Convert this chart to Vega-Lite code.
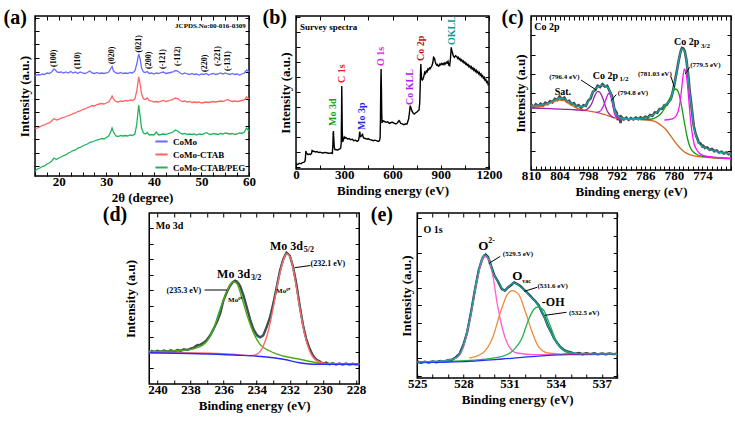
{
"$schema": "https://vega.github.io/schema/vega-lite/v6.json",
"background": "white",
"padding": {"left": 2, "top": 6, "right": 0, "bottom": 0},
"spacing": -2,
"center": true,
"resolve": {"scale": {"color": "independent"}, "legend": {"color": "independent"}},
"vconcat": [
{"hconcat": [
{
"width": 214, "height": 160,
"title": {"text": "(a)", "dx": -15},
"data": {"values": [
{"x":15,"y":100,"s":"CoMo"},{"x":15.5,"y":101.5,"s":"CoMo"},{"x":16,"y":101,"s":"CoMo"},{"x":16.5,"y":102,"s":"CoMo"},{"x":17,"y":101.5,"s":"CoMo"},{"x":17.5,"y":103,"s":"CoMo"},{"x":18,"y":102.5,"s":"CoMo"},{"x":18.5,"y":104,"s":"CoMo"},{"x":19,"y":107,"s":"CoMo"},{"x":19.3,"y":106,"s":"CoMo"},{"x":19.6,"y":104,"s":"CoMo"},{"x":20,"y":103.5,"s":"CoMo"},{"x":20.5,"y":104,"s":"CoMo"},{"x":21,"y":103,"s":"CoMo"},{"x":21.5,"y":104,"s":"CoMo"},{"x":22,"y":103,"s":"CoMo"},{"x":22.5,"y":104.5,"s":"CoMo"},{"x":23,"y":103,"s":"CoMo"},{"x":23.5,"y":104,"s":"CoMo"},{"x":24,"y":102.5,"s":"CoMo"},{"x":24.5,"y":104,"s":"CoMo"},{"x":25,"y":103,"s":"CoMo"},{"x":25.5,"y":102.5,"s":"CoMo"},{"x":26,"y":103.5,"s":"CoMo"},{"x":26.5,"y":105,"s":"CoMo"},{"x":27,"y":103,"s":"CoMo"},{"x":27.5,"y":102.5,"s":"CoMo"},{"x":28,"y":103.5,"s":"CoMo"},{"x":28.5,"y":102.5,"s":"CoMo"},{"x":29,"y":103,"s":"CoMo"},{"x":29.5,"y":102.5,"s":"CoMo"},{"x":30,"y":103,"s":"CoMo"},{"x":30.5,"y":104,"s":"CoMo"},{"x":31,"y":108,"s":"CoMo"},{"x":31.2,"y":109.5,"s":"CoMo"},{"x":31.5,"y":105,"s":"CoMo"},{"x":32,"y":103,"s":"CoMo"},{"x":32.5,"y":102.5,"s":"CoMo"},{"x":33,"y":103.5,"s":"CoMo"},{"x":33.5,"y":102.5,"s":"CoMo"},{"x":34,"y":103,"s":"CoMo"},{"x":34.5,"y":102.5,"s":"CoMo"},{"x":35,"y":103.5,"s":"CoMo"},{"x":35.5,"y":103,"s":"CoMo"},{"x":36,"y":105,"s":"CoMo"},{"x":36.4,"y":112,"s":"CoMo"},{"x":36.8,"y":122,"s":"CoMo"},{"x":37.1,"y":117,"s":"CoMo"},{"x":37.4,"y":108,"s":"CoMo"},{"x":37.8,"y":104,"s":"CoMo"},{"x":38.2,"y":103.5,"s":"CoMo"},{"x":38.6,"y":104.5,"s":"CoMo"},{"x":39,"y":102.5,"s":"CoMo"},{"x":39.5,"y":103,"s":"CoMo"},{"x":40,"y":102,"s":"CoMo"},{"x":40.5,"y":103,"s":"CoMo"},{"x":41,"y":102.5,"s":"CoMo"},{"x":41.5,"y":103.5,"s":"CoMo"},{"x":42,"y":104,"s":"CoMo"},{"x":42.5,"y":102.5,"s":"CoMo"},{"x":43,"y":103,"s":"CoMo"},{"x":43.5,"y":103.5,"s":"CoMo"},{"x":44,"y":104,"s":"CoMo"},{"x":44.5,"y":105.5,"s":"CoMo"},{"x":45,"y":105,"s":"CoMo"},{"x":45.5,"y":103,"s":"CoMo"},{"x":46,"y":102,"s":"CoMo"},{"x":46.5,"y":103,"s":"CoMo"},{"x":47,"y":102,"s":"CoMo"},{"x":47.5,"y":101.5,"s":"CoMo"},{"x":48,"y":102.5,"s":"CoMo"},{"x":48.5,"y":101.5,"s":"CoMo"},{"x":49,"y":102,"s":"CoMo"},{"x":49.5,"y":101,"s":"CoMo"},{"x":50,"y":102,"s":"CoMo"},{"x":50.5,"y":101.5,"s":"CoMo"},{"x":51,"y":102.5,"s":"CoMo"},{"x":51.5,"y":101,"s":"CoMo"},{"x":52,"y":102,"s":"CoMo"},{"x":52.5,"y":102.5,"s":"CoMo"},{"x":53,"y":101.5,"s":"CoMo"},{"x":53.5,"y":102,"s":"CoMo"},{"x":54,"y":103,"s":"CoMo"},{"x":54.5,"y":102,"s":"CoMo"},{"x":55,"y":103,"s":"CoMo"},{"x":55.5,"y":102,"s":"CoMo"},{"x":56,"y":101.5,"s":"CoMo"},{"x":56.5,"y":102.5,"s":"CoMo"},{"x":57,"y":101.5,"s":"CoMo"},{"x":57.5,"y":102,"s":"CoMo"},{"x":58,"y":101,"s":"CoMo"},{"x":58.5,"y":102,"s":"CoMo"},{"x":59,"y":103,"s":"CoMo"},{"x":59.5,"y":106,"s":"CoMo"},{"x":60,"y":104,"s":"CoMo"},
{"x":15,"y":47,"s":"CoMo-CTAB"},{"x":15.5,"y":48,"s":"CoMo-CTAB"},{"x":16,"y":49,"s":"CoMo-CTAB"},{"x":16.5,"y":50.5,"s":"CoMo-CTAB"},{"x":17,"y":51,"s":"CoMo-CTAB"},{"x":17.5,"y":52.5,"s":"CoMo-CTAB"},{"x":18,"y":53,"s":"CoMo-CTAB"},{"x":18.5,"y":55,"s":"CoMo-CTAB"},{"x":19,"y":57.5,"s":"CoMo-CTAB"},{"x":19.5,"y":56,"s":"CoMo-CTAB"},{"x":20,"y":56.5,"s":"CoMo-CTAB"},{"x":20.5,"y":58,"s":"CoMo-CTAB"},{"x":21,"y":58.5,"s":"CoMo-CTAB"},{"x":21.5,"y":59.5,"s":"CoMo-CTAB"},{"x":22,"y":60.5,"s":"CoMo-CTAB"},{"x":22.5,"y":61,"s":"CoMo-CTAB"},{"x":23,"y":62.5,"s":"CoMo-CTAB"},{"x":23.5,"y":63,"s":"CoMo-CTAB"},{"x":24,"y":64.5,"s":"CoMo-CTAB"},{"x":24.5,"y":65,"s":"CoMo-CTAB"},{"x":25,"y":66.5,"s":"CoMo-CTAB"},{"x":25.5,"y":67,"s":"CoMo-CTAB"},{"x":26,"y":68.5,"s":"CoMo-CTAB"},{"x":26.5,"y":69,"s":"CoMo-CTAB"},{"x":27,"y":70.5,"s":"CoMo-CTAB"},{"x":27.5,"y":70,"s":"CoMo-CTAB"},{"x":28,"y":71.5,"s":"CoMo-CTAB"},{"x":28.5,"y":72,"s":"CoMo-CTAB"},{"x":29,"y":72.5,"s":"CoMo-CTAB"},{"x":29.5,"y":72,"s":"CoMo-CTAB"},{"x":30,"y":73,"s":"CoMo-CTAB"},{"x":30.5,"y":74,"s":"CoMo-CTAB"},{"x":31,"y":78,"s":"CoMo-CTAB"},{"x":31.2,"y":80,"s":"CoMo-CTAB"},{"x":31.5,"y":77,"s":"CoMo-CTAB"},{"x":32,"y":74.5,"s":"CoMo-CTAB"},{"x":32.5,"y":74,"s":"CoMo-CTAB"},{"x":33,"y":75,"s":"CoMo-CTAB"},{"x":33.5,"y":74.5,"s":"CoMo-CTAB"},{"x":34,"y":75.5,"s":"CoMo-CTAB"},{"x":34.5,"y":75,"s":"CoMo-CTAB"},{"x":35,"y":76,"s":"CoMo-CTAB"},{"x":35.5,"y":75.5,"s":"CoMo-CTAB"},{"x":36,"y":77,"s":"CoMo-CTAB"},{"x":36.4,"y":85,"s":"CoMo-CTAB"},{"x":36.8,"y":99,"s":"CoMo-CTAB"},{"x":37.1,"y":92,"s":"CoMo-CTAB"},{"x":37.4,"y":82,"s":"CoMo-CTAB"},{"x":37.8,"y":77,"s":"CoMo-CTAB"},{"x":38.2,"y":76.5,"s":"CoMo-CTAB"},{"x":38.6,"y":78,"s":"CoMo-CTAB"},{"x":39,"y":75.5,"s":"CoMo-CTAB"},{"x":39.5,"y":75,"s":"CoMo-CTAB"},{"x":40,"y":74,"s":"CoMo-CTAB"},{"x":40.5,"y":74.5,"s":"CoMo-CTAB"},{"x":41,"y":74,"s":"CoMo-CTAB"},{"x":41.5,"y":75,"s":"CoMo-CTAB"},{"x":42,"y":75.5,"s":"CoMo-CTAB"},{"x":42.5,"y":74.5,"s":"CoMo-CTAB"},{"x":43,"y":75,"s":"CoMo-CTAB"},{"x":43.5,"y":76,"s":"CoMo-CTAB"},{"x":44,"y":76.5,"s":"CoMo-CTAB"},{"x":44.5,"y":78,"s":"CoMo-CTAB"},{"x":45,"y":77.5,"s":"CoMo-CTAB"},{"x":45.5,"y":75.5,"s":"CoMo-CTAB"},{"x":46,"y":74.5,"s":"CoMo-CTAB"},{"x":46.5,"y":75,"s":"CoMo-CTAB"},{"x":47,"y":74,"s":"CoMo-CTAB"},{"x":47.5,"y":74.5,"s":"CoMo-CTAB"},{"x":48,"y":73.5,"s":"CoMo-CTAB"},{"x":48.5,"y":74,"s":"CoMo-CTAB"},{"x":49,"y":73.5,"s":"CoMo-CTAB"},{"x":49.5,"y":74,"s":"CoMo-CTAB"},{"x":50,"y":73,"s":"CoMo-CTAB"},{"x":50.5,"y":73.5,"s":"CoMo-CTAB"},{"x":51,"y":74,"s":"CoMo-CTAB"},{"x":51.5,"y":73.5,"s":"CoMo-CTAB"},{"x":52,"y":74,"s":"CoMo-CTAB"},{"x":52.5,"y":74.5,"s":"CoMo-CTAB"},{"x":53,"y":74,"s":"CoMo-CTAB"},{"x":53.5,"y":74.5,"s":"CoMo-CTAB"},{"x":54,"y":75,"s":"CoMo-CTAB"},{"x":54.5,"y":74.5,"s":"CoMo-CTAB"},{"x":55,"y":75.5,"s":"CoMo-CTAB"},{"x":55.5,"y":76.5,"s":"CoMo-CTAB"},{"x":56,"y":75,"s":"CoMo-CTAB"},{"x":56.5,"y":74.5,"s":"CoMo-CTAB"},{"x":57,"y":75,"s":"CoMo-CTAB"},{"x":57.5,"y":74.5,"s":"CoMo-CTAB"},{"x":58,"y":75,"s":"CoMo-CTAB"},{"x":58.5,"y":75.5,"s":"CoMo-CTAB"},{"x":59,"y":76,"s":"CoMo-CTAB"},{"x":59.5,"y":79,"s":"CoMo-CTAB"},{"x":60,"y":77,"s":"CoMo-CTAB"},
{"x":15,"y":5,"s":"CoMo-CTAB/PEG"},{"x":15.5,"y":7,"s":"CoMo-CTAB/PEG"},{"x":16,"y":8,"s":"CoMo-CTAB/PEG"},{"x":16.5,"y":9.5,"s":"CoMo-CTAB/PEG"},{"x":17,"y":10,"s":"CoMo-CTAB/PEG"},{"x":17.5,"y":12,"s":"CoMo-CTAB/PEG"},{"x":18,"y":13,"s":"CoMo-CTAB/PEG"},{"x":18.5,"y":15,"s":"CoMo-CTAB/PEG"},{"x":19,"y":18,"s":"CoMo-CTAB/PEG"},{"x":19.5,"y":16.5,"s":"CoMo-CTAB/PEG"},{"x":20,"y":18,"s":"CoMo-CTAB/PEG"},{"x":20.5,"y":19,"s":"CoMo-CTAB/PEG"},{"x":21,"y":20.5,"s":"CoMo-CTAB/PEG"},{"x":21.5,"y":21,"s":"CoMo-CTAB/PEG"},{"x":22,"y":23,"s":"CoMo-CTAB/PEG"},{"x":22.5,"y":24,"s":"CoMo-CTAB/PEG"},{"x":23,"y":25.5,"s":"CoMo-CTAB/PEG"},{"x":23.5,"y":26,"s":"CoMo-CTAB/PEG"},{"x":24,"y":28,"s":"CoMo-CTAB/PEG"},{"x":24.5,"y":28.5,"s":"CoMo-CTAB/PEG"},{"x":25,"y":30,"s":"CoMo-CTAB/PEG"},{"x":25.5,"y":31,"s":"CoMo-CTAB/PEG"},{"x":26,"y":32,"s":"CoMo-CTAB/PEG"},{"x":26.5,"y":33.5,"s":"CoMo-CTAB/PEG"},{"x":27,"y":34,"s":"CoMo-CTAB/PEG"},{"x":27.5,"y":35,"s":"CoMo-CTAB/PEG"},{"x":28,"y":36,"s":"CoMo-CTAB/PEG"},{"x":28.5,"y":36.5,"s":"CoMo-CTAB/PEG"},{"x":29,"y":37.5,"s":"CoMo-CTAB/PEG"},{"x":29.5,"y":37,"s":"CoMo-CTAB/PEG"},{"x":30,"y":38.5,"s":"CoMo-CTAB/PEG"},{"x":30.5,"y":40,"s":"CoMo-CTAB/PEG"},{"x":31,"y":45,"s":"CoMo-CTAB/PEG"},{"x":31.2,"y":48,"s":"CoMo-CTAB/PEG"},{"x":31.5,"y":44,"s":"CoMo-CTAB/PEG"},{"x":32,"y":40,"s":"CoMo-CTAB/PEG"},{"x":32.5,"y":39.5,"s":"CoMo-CTAB/PEG"},{"x":33,"y":40.5,"s":"CoMo-CTAB/PEG"},{"x":33.5,"y":40,"s":"CoMo-CTAB/PEG"},{"x":34,"y":40.5,"s":"CoMo-CTAB/PEG"},{"x":34.5,"y":40,"s":"CoMo-CTAB/PEG"},{"x":35,"y":41,"s":"CoMo-CTAB/PEG"},{"x":35.5,"y":40.5,"s":"CoMo-CTAB/PEG"},{"x":36,"y":42,"s":"CoMo-CTAB/PEG"},{"x":36.4,"y":52,"s":"CoMo-CTAB/PEG"},{"x":36.8,"y":71,"s":"CoMo-CTAB/PEG"},{"x":37.1,"y":60,"s":"CoMo-CTAB/PEG"},{"x":37.4,"y":48,"s":"CoMo-CTAB/PEG"},{"x":37.8,"y":43,"s":"CoMo-CTAB/PEG"},{"x":38.2,"y":42,"s":"CoMo-CTAB/PEG"},{"x":38.6,"y":43.5,"s":"CoMo-CTAB/PEG"},{"x":39,"y":41,"s":"CoMo-CTAB/PEG"},{"x":39.5,"y":41.5,"s":"CoMo-CTAB/PEG"},{"x":40,"y":41,"s":"CoMo-CTAB/PEG"},{"x":40.5,"y":44,"s":"CoMo-CTAB/PEG"},{"x":41,"y":41,"s":"CoMo-CTAB/PEG"},{"x":41.5,"y":41.5,"s":"CoMo-CTAB/PEG"},{"x":42,"y":42,"s":"CoMo-CTAB/PEG"},{"x":42.5,"y":41.5,"s":"CoMo-CTAB/PEG"},{"x":43,"y":42.5,"s":"CoMo-CTAB/PEG"},{"x":43.5,"y":43,"s":"CoMo-CTAB/PEG"},{"x":44,"y":44,"s":"CoMo-CTAB/PEG"},{"x":44.5,"y":46,"s":"CoMo-CTAB/PEG"},{"x":45,"y":45,"s":"CoMo-CTAB/PEG"},{"x":45.5,"y":43,"s":"CoMo-CTAB/PEG"},{"x":46,"y":42,"s":"CoMo-CTAB/PEG"},{"x":46.5,"y":42.5,"s":"CoMo-CTAB/PEG"},{"x":47,"y":41.5,"s":"CoMo-CTAB/PEG"},{"x":47.5,"y":42,"s":"CoMo-CTAB/PEG"},{"x":48,"y":41.5,"s":"CoMo-CTAB/PEG"},{"x":48.5,"y":42,"s":"CoMo-CTAB/PEG"},{"x":49,"y":41,"s":"CoMo-CTAB/PEG"},{"x":49.5,"y":42,"s":"CoMo-CTAB/PEG"},{"x":50,"y":41.5,"s":"CoMo-CTAB/PEG"},{"x":50.5,"y":42,"s":"CoMo-CTAB/PEG"},{"x":51,"y":43.5,"s":"CoMo-CTAB/PEG"},{"x":51.5,"y":42,"s":"CoMo-CTAB/PEG"},{"x":52,"y":41.5,"s":"CoMo-CTAB/PEG"},{"x":52.5,"y":42.5,"s":"CoMo-CTAB/PEG"},{"x":53,"y":42,"s":"CoMo-CTAB/PEG"},{"x":53.5,"y":41.5,"s":"CoMo-CTAB/PEG"},{"x":54,"y":42.5,"s":"CoMo-CTAB/PEG"},{"x":54.5,"y":42,"s":"CoMo-CTAB/PEG"},{"x":55,"y":43,"s":"CoMo-CTAB/PEG"},{"x":55.5,"y":42.5,"s":"CoMo-CTAB/PEG"},{"x":56,"y":42,"s":"CoMo-CTAB/PEG"},{"x":56.5,"y":42.5,"s":"CoMo-CTAB/PEG"},{"x":57,"y":41.5,"s":"CoMo-CTAB/PEG"},{"x":57.5,"y":42,"s":"CoMo-CTAB/PEG"},{"x":58,"y":43,"s":"CoMo-CTAB/PEG"},{"x":58.5,"y":42.5,"s":"CoMo-CTAB/PEG"},{"x":59,"y":44,"s":"CoMo-CTAB/PEG"},{"x":59.5,"y":48,"s":"CoMo-CTAB/PEG"},{"x":60,"y":45,"s":"CoMo-CTAB/PEG"}
]},
"layer": [
{"mark": {"type": "line", "strokeWidth": 1.3},
 "encoding": {
  "x": {"field": "x", "type": "quantitative", "scale": {"domain": [15, 60], "nice": false, "zero": false}, "axis": {"title": "2θ (degree)", "values": [15,17.5,20,22.5,25,27.5,30,32.5,35,37.5,40,42.5,45,47.5,50,52.5,55,57.5,60], "labelExpr": "datum.value % 10 === 0 ? datum.label : ''"}},
  "y": {"field": "y", "type": "quantitative", "scale": {"domain": [0, 160], "nice": false, "zero": false}, "axis": {"title": "Intensity (a.u.)", "labels": false, "values": [10,23.5,37,50.5,64,77.5,91,104.5,118,131.5,145,158.5]}},
  "color": {"field": "s", "type": "nominal", "scale": {"domain": ["CoMo","CoMo-CTAB","CoMo-CTAB/PEG"], "range": ["#6a6aff","#ff6464","#20b45a"]}, "legend": {"orient": "bottom-right", "title": null, "symbolType": "stroke", "symbolSize": 150, "symbolStrokeWidth": 2, "rowPadding": 0, "offset": 3, "padding": 0}}
 }},
{"mark": {"type": "line", "opacity": 0},
 "encoding": {
  "x": {"field": "x", "type": "quantitative", "axis": {"orient": "top", "labels": false, "title": null, "values": [15,17.5,20,22.5,25,27.5,30,32.5,35,37.5,40,42.5,45,47.5,50,52.5,55,57.5,60]}},
  "y": {"field": "y", "type": "quantitative", "axis": {"orient": "right", "labels": false, "title": null, "values": [10,23.5,37,50.5,64,77.5,91,104.5,118,131.5,145,158.5]}},
  "detail": {"field": "s"}
 }},
{"data": {"values": [{"x":19.05,"y":109,"t":"(100)"},{"x":24,"y":107,"t":"(110)"},{"x":31.2,"y":112,"t":"(020)"},{"x":36.9,"y":123.5,"t":"(021)"},{"x":39,"y":107,"t":"(200)"},{"x":42,"y":107,"t":"(-121)"},{"x":45,"y":110,"t":"(-112)"},{"x":50.7,"y":104,"t":"(220)"},{"x":53.5,"y":110,"t":"(-221)"},{"x":55.6,"y":105,"t":"(-131)"}]},
 "mark": {"type": "text", "angle": 270, "align": "left", "baseline": "middle", "fontSize": 8},
 "encoding": {"x": {"field": "x", "type": "quantitative", "axis": null}, "y": {"field": "y", "type": "quantitative", "axis": null}, "text": {"field": "t"}}},
{"data": {"values": [{"x": 59.3, "y": 150, "t": "JCPDS.No:00-016-0309"}]},
 "mark": {"type": "text", "align": "right", "baseline": "middle", "fontSize": 7},
 "encoding": {"x": {"field": "x", "type": "quantitative", "axis": null}, "y": {"field": "y", "type": "quantitative", "axis": null}, "text": {"field": "t"}}}
],
"resolve": {"axis": {"x": "independent", "y": "independent"}}
},
{"hconcat": [
{
"width": 193, "height": 153,
"title": {"text": "(b)", "dx": -17},
"data": {"values": [
{"x":0,"y":5},{"x":10,"y":4.5},{"x":20,"y":5.8},{"x":30,"y":5.2},{"x":40,"y":6.3},{"x":50,"y":6.8},{"x":55,"y":7.7},{"x":58,"y":10},{"x":61,"y":18},{"x":64,"y":16},{"x":68,"y":15.5},{"x":75,"y":14.3},{"x":82,"y":15},{"x":90,"y":14.3},{"x":96,"y":15.5},{"x":100,"y":18.5},{"x":105,"y":17.5},{"x":110,"y":17.8},{"x":120,"y":17},{"x":130,"y":17.4},{"x":140,"y":16.5},{"x":150,"y":16.8},{"x":160,"y":16.2},{"x":170,"y":16},{"x":180,"y":16.6},{"x":190,"y":16.3},{"x":200,"y":15.8},{"x":210,"y":15.7},{"x":220,"y":16.2},{"x":226,"y":15.7},{"x":229,"y":24},{"x":231,"y":36},{"x":232.5,"y":38},{"x":234,"y":33},{"x":236,"y":27},{"x":238,"y":21.5},{"x":242,"y":19.5},{"x":250,"y":19.3},{"x":260,"y":19},{"x":270,"y":19.8},{"x":278,"y":21},{"x":281,"y":26},{"x":283,"y":55},{"x":284.5,"y":83},{"x":286,"y":60},{"x":287.5,"y":38},{"x":290,"y":27},{"x":293,"y":28.5},{"x":297,"y":30.5},{"x":300,"y":32},{"x":305,"y":30.8},{"x":310,"y":31.5},{"x":320,"y":30},{"x":330,"y":30.5},{"x":340,"y":29.3},{"x":350,"y":29.8},{"x":360,"y":28.3},{"x":370,"y":28.8},{"x":380,"y":27.7},{"x":388,"y":28.5},{"x":392,"y":31},{"x":395,"y":36},{"x":397,"y":37.3},{"x":399,"y":33},{"x":402,"y":32.3},{"x":406,"y":33},{"x":410,"y":33.5},{"x":413,"y":35.3},{"x":416,"y":33},{"x":420,"y":31},{"x":430,"y":30.5},{"x":440,"y":30},{"x":450,"y":30.3},{"x":460,"y":29.3},{"x":470,"y":29},{"x":480,"y":28.3},{"x":490,"y":28.8},{"x":500,"y":28.3},{"x":508,"y":27.8},{"x":515,"y":27.7},{"x":520,"y":29},{"x":523,"y":32},{"x":525,"y":50},{"x":527,"y":85},{"x":529,"y":100},{"x":531,"y":80},{"x":533,"y":55},{"x":535,"y":46.7},{"x":538,"y":47},{"x":540,"y":48.3},{"x":550,"y":47.5},{"x":560,"y":46.7},{"x":570,"y":47.2},{"x":580,"y":45.7},{"x":590,"y":46.5},{"x":600,"y":46.7},{"x":610,"y":45.8},{"x":620,"y":45},{"x":630,"y":46},{"x":640,"y":48.3},{"x":645,"y":47.5},{"x":650,"y":45.7},{"x":660,"y":45.2},{"x":670,"y":44.3},{"x":680,"y":45},{"x":690,"y":45},{"x":700,"y":50},{"x":705,"y":56},{"x":710,"y":63.3},{"x":715,"y":61},{"x":720,"y":58.3},{"x":728,"y":56},{"x":735,"y":55},{"x":742,"y":56},{"x":750,"y":56.7},{"x":758,"y":58},{"x":765,"y":59},{"x":769,"y":66},{"x":772,"y":81.7},{"x":774,"y":97},{"x":776,"y":105},{"x":778,"y":98},{"x":781,"y":90},{"x":785,"y":89},{"x":790,"y":90},{"x":795,"y":93},{"x":800,"y":96.7},{"x":805,"y":95.5},{"x":810,"y":98},{"x":815,"y":97.2},{"x":820,"y":100},{"x":825,"y":99.2},{"x":830,"y":101},{"x":835,"y":100.3},{"x":840,"y":102},{"x":845,"y":103.3},{"x":850,"y":106},{"x":855,"y":111.7},{"x":859,"y":111},{"x":862,"y":110},{"x":866,"y":107},{"x":870,"y":105},{"x":875,"y":103.8},{"x":880,"y":104.5},{"x":885,"y":102.8},{"x":890,"y":103.3},{"x":895,"y":105},{"x":900,"y":104.2},{"x":905,"y":105.6},{"x":910,"y":104.6},{"x":915,"y":105.5},{"x":920,"y":104.3},{"x":925,"y":106},{"x":930,"y":105.2},{"x":935,"y":106.8},{"x":940,"y":106},{"x":945,"y":107.7},{"x":950,"y":104},{"x":955,"y":103.3},{"x":960,"y":110},{"x":965,"y":121.7},{"x":969,"y":118},{"x":972,"y":116.7},{"x":978,"y":113},{"x":985,"y":111.7},{"x":992,"y":113.2},{"x":1000,"y":112.3},{"x":1005,"y":110.5},{"x":1010,"y":111.5},{"x":1015,"y":109.4},{"x":1020,"y":110.2},{"x":1025,"y":108.3},{"x":1030,"y":109.2},{"x":1035,"y":107.2},{"x":1040,"y":108},{"x":1045,"y":106},{"x":1050,"y":106.9},{"x":1055,"y":104.8},{"x":1060,"y":105.6},{"x":1065,"y":103.6},{"x":1070,"y":104.5},{"x":1075,"y":102.4},{"x":1080,"y":103.3},{"x":1085,"y":101.2},{"x":1090,"y":102.3},{"x":1095,"y":100},{"x":1100,"y":101},{"x":1105,"y":98.8},{"x":1110,"y":100},{"x":1115,"y":97.6},{"x":1120,"y":98.7},{"x":1125,"y":96.4},{"x":1130,"y":97.5},{"x":1135,"y":95.3},{"x":1140,"y":96.4},{"x":1145,"y":93.8},{"x":1150,"y":95},{"x":1155,"y":92.4},{"x":1160,"y":93.3},{"x":1165,"y":90.7},{"x":1170,"y":91.7},{"x":1175,"y":88.8},{"x":1180,"y":89.6},{"x":1185,"y":86.6},{"x":1190,"y":87.4},{"x":1195,"y":84.3},{"x":1200,"y":85}
]},
"layer": [
{"mark": {"type": "line", "color": "black", "strokeWidth": 1.4},
 "encoding": {
  "x": {"field": "x", "type": "quantitative", "scale": {"domain": [0, 1200], "nice": false, "zero": false}, "axis": {"title": "Binding energy (eV)", "values": [0,150,300,450,600,750,900,1050,1200], "labelExpr": "datum.value % 300 === 0 ? '' + datum.value : ''"}},
  "y": {"field": "y", "type": "quantitative", "scale": {"domain": [0, 153], "nice": false, "zero": false}, "axis": {"title": "Intensity (a.u.)", "labels": false, "values": [1.7,16.7,31.7,46.7,61.7,76.7,91.7,106.7,121.7,136.7,151.7]}}
 }},
{"mark": {"type": "line", "opacity": 0},
 "encoding": {
  "x": {"field": "x", "type": "quantitative", "axis": {"orient": "top", "labels": false, "title": null, "values": [0,150,300,450,600,750,900,1050,1200]}},
  "y": {"field": "y", "type": "quantitative", "axis": {"orient": "right", "labels": false, "title": null, "values": [1.7,16.7,31.7,46.7,61.7,76.7,91.7,106.7,121.7,136.7,151.7]}}
 }},
{"data": {"values": [{"x":232,"y":43,"t":"Mo 3d"},{"x":284,"y":86,"t":"C 1s"},{"x":408,"y":39,"t":"Mo 3p"},{"x":528,"y":103,"t":"O 1s"},{"x":708,"y":64,"t":"Co KLL"},{"x":775,"y":108,"t":"Co 2p"},{"x":971,"y":124,"t":"OKLL"}]},
 "mark": {"type": "text", "angle": 270, "align": "left", "baseline": "middle", "fontSize": 10},
 "encoding": {"x": {"field": "x", "type": "quantitative", "axis": null}, "y": {"field": "y", "type": "quantitative", "axis": null}, "text": {"field": "t"},
  "color": {"field": "t", "type": "nominal", "scale": {"domain": ["Mo 3d","C 1s","Mo 3p","O 1s","Co KLL","Co 2p","OKLL"], "range": ["#1a9a1a","#e8202a","#2828e8","#e020e0","#b020f0","#b01818","#109898"]}, "legend": null}}},
{"data": {"values": [{"x": 25, "y": 142, "t": "Survey spectra"}]},
 "mark": {"type": "text", "align": "left", "baseline": "middle", "fontSize": 9},
 "encoding": {"x": {"field": "x", "type": "quantitative", "axis": null}, "y": {"field": "y", "type": "quantitative", "axis": null}, "text": {"field": "t"}}}
],
"resolve": {"axis": {"x": "independent", "y": "independent"}}
},
{
"width": 200, "height": 154,
"title": {"text": "(c)", "dx": -13},
"data": {"values": [
{"x":810,"y":65.5,"s":"raw"},{"x":809.5,"y":63,"s":"raw"},{"x":809,"y":65.8,"s":"raw"},{"x":808.5,"y":63.9,"s":"raw"},{"x":808,"y":66.3,"s":"raw"},{"x":807.5,"y":64.5,"s":"raw"},{"x":807,"y":67.4,"s":"raw"},{"x":806.5,"y":66,"s":"raw"},{"x":806,"y":68.8,"s":"raw"},{"x":805.5,"y":67.7,"s":"raw"},{"x":805,"y":71.2,"s":"raw"},{"x":804.5,"y":70,"s":"raw"},{"x":804,"y":73.5,"s":"raw"},{"x":803.5,"y":70.6,"s":"raw"},{"x":803,"y":72.3,"s":"raw"},{"x":802.5,"y":68.4,"s":"raw"},{"x":802,"y":69.2,"s":"raw"},{"x":801.5,"y":65.7,"s":"raw"},{"x":801,"y":66.8,"s":"raw"},{"x":800.5,"y":63.5,"s":"raw"},{"x":800,"y":64.8,"s":"raw"},{"x":799.5,"y":62.2,"s":"raw"},{"x":799,"y":64.7,"s":"raw"},{"x":798.5,"y":64,"s":"raw"},{"x":798,"y":69.3,"s":"raw"},{"x":797.5,"y":71.5,"s":"raw"},{"x":797,"y":78.2,"s":"raw"},{"x":796.5,"y":80,"s":"raw"},{"x":796,"y":84.3,"s":"raw"},{"x":795.5,"y":83,"s":"raw"},{"x":795,"y":85.8,"s":"raw"},{"x":794.5,"y":83.5,"s":"raw"},{"x":794,"y":84.2,"s":"raw"},{"x":793.5,"y":79,"s":"raw"},{"x":793,"y":74,"s":"raw"},{"x":792.5,"y":61,"s":"raw"},{"x":792,"y":57,"s":"raw"},{"x":791.8,"y":50,"s":"raw"},{"x":791.5,"y":54.5,"s":"raw"},{"x":791.2,"y":47,"s":"raw"},{"x":791,"y":53,"s":"raw"},{"x":790.5,"y":50.5,"s":"raw"},{"x":790,"y":52.4,"s":"raw"},{"x":789.5,"y":50.2,"s":"raw"},{"x":789,"y":52,"s":"raw"},{"x":788.5,"y":50.5,"s":"raw"},{"x":788,"y":52.3,"s":"raw"},{"x":787.5,"y":50.8,"s":"raw"},{"x":787,"y":52.6,"s":"raw"},{"x":786.5,"y":51.4,"s":"raw"},{"x":786,"y":53.3,"s":"raw"},{"x":785.5,"y":52.3,"s":"raw"},{"x":785,"y":55,"s":"raw"},{"x":784.5,"y":54.2,"s":"raw"},{"x":784,"y":57.6,"s":"raw"},{"x":783.5,"y":57.2,"s":"raw"},{"x":783,"y":61,"s":"raw"},{"x":782.5,"y":61.3,"s":"raw"},{"x":782,"y":64.8,"s":"raw"},{"x":781.5,"y":65.2,"s":"raw"},{"x":781,"y":69,"s":"raw"},{"x":780.7,"y":70.5,"s":"raw"},{"x":780.4,"y":74.8,"s":"raw"},{"x":780.2,"y":79,"s":"raw"},{"x":779.9,"y":85.5,"s":"raw"},{"x":779.7,"y":91,"s":"raw"},{"x":779.4,"y":98.5,"s":"raw"},{"x":779.2,"y":104,"s":"raw"},{"x":778.9,"y":111.5,"s":"raw"},{"x":778.7,"y":116,"s":"raw"},{"x":778.5,"y":119.8,"s":"raw"},{"x":778.3,"y":122,"s":"raw"},{"x":778,"y":121.5,"s":"raw"},{"x":777.7,"y":118.5,"s":"raw"},{"x":777.4,"y":111,"s":"raw"},{"x":777.2,"y":103.5,"s":"raw"},{"x":776.9,"y":91,"s":"raw"},{"x":776.7,"y":79.5,"s":"raw"},{"x":776.4,"y":68,"s":"raw"},{"x":776.2,"y":59.5,"s":"raw"},{"x":776,"y":51,"s":"raw"},{"x":775.8,"y":43.5,"s":"raw"},{"x":775.5,"y":37.5,"s":"raw"},{"x":775.3,"y":34,"s":"raw"},{"x":775,"y":30.5,"s":"raw"},{"x":774.8,"y":27.5,"s":"raw"},{"x":774.5,"y":27,"s":"raw"},{"x":774.3,"y":25.7,"s":"raw"},{"x":774,"y":23.5,"s":"raw"},{"x":773.8,"y":24,"s":"raw"},{"x":773.5,"y":22,"s":"raw"},{"x":773,"y":22.6,"s":"raw"},{"x":772.5,"y":20.2,"s":"raw"},{"x":772,"y":21,"s":"raw"},{"x":771.5,"y":18.7,"s":"raw"},{"x":771,"y":19.5,"s":"raw"},{"x":770.5,"y":17.4,"s":"raw"},{"x":770,"y":18.3,"s":"raw"},{"x":769.5,"y":16.5,"s":"raw"},{"x":769,"y":17.5,"s":"raw"},{"x":768.5,"y":15.8,"s":"raw"},{"x":768,"y":16.8,"s":"raw"},
{"x":810,"y":64,"s":"fit"},{"x":808,"y":65,"s":"fit"},{"x":806,"y":67.5,"s":"fit"},{"x":805,"y":70,"s":"fit"},{"x":804,"y":72,"s":"fit"},{"x":803,"y":71,"s":"fit"},{"x":802,"y":68,"s":"fit"},{"x":801,"y":65.5,"s":"fit"},{"x":800,"y":63.5,"s":"fit"},{"x":799,"y":63.5,"s":"fit"},{"x":798.3,"y":66,"s":"fit"},{"x":797.7,"y":71,"s":"fit"},{"x":797.2,"y":76,"s":"fit"},{"x":796.6,"y":80.5,"s":"fit"},{"x":796,"y":83,"s":"fit"},{"x":795.3,"y":84.3,"s":"fit"},{"x":794.6,"y":84.5,"s":"fit"},{"x":794,"y":83,"s":"fit"},{"x":793.5,"y":80,"s":"fit"},{"x":793.1,"y":74,"s":"fit"},{"x":792.7,"y":65,"s":"fit"},{"x":792.3,"y":58,"s":"fit"},{"x":791.8,"y":54,"s":"fit"},{"x":791,"y":52,"s":"fit"},{"x":789,"y":51,"s":"fit"},{"x":787,"y":51.5,"s":"fit"},{"x":785.5,"y":53,"s":"fit"},{"x":784.5,"y":55,"s":"fit"},{"x":783.5,"y":58,"s":"fit"},{"x":782.6,"y":62,"s":"fit"},{"x":781.6,"y":66,"s":"fit"},{"x":780.7,"y":70,"s":"fit"},{"x":780.2,"y":79,"s":"fit"},{"x":779.7,"y":91,"s":"fit"},{"x":779.2,"y":104,"s":"fit"},{"x":778.7,"y":116,"s":"fit"},{"x":778.3,"y":121,"s":"fit"},{"x":777.7,"y":118,"s":"fit"},{"x":777.2,"y":103,"s":"fit"},{"x":776.7,"y":79,"s":"fit"},{"x":776.2,"y":59,"s":"fit"},{"x":775.8,"y":43,"s":"fit"},{"x":775.3,"y":33,"s":"fit"},{"x":774.8,"y":27,"s":"fit"},{"x":773.8,"y":23,"s":"fit"},{"x":772.5,"y":20.5,"s":"fit"},{"x":771,"y":18.5,"s":"fit"},{"x":769.5,"y":17,"s":"fit"},{"x":768,"y":16,"s":"fit"},
{"x":810,"y":62.7,"s":"bg"},{"x":808,"y":63.3,"s":"bg"},{"x":806.1,"y":66.7,"s":"bg"},{"x":805,"y":68.7,"s":"bg"},{"x":804.1,"y":70,"s":"bg"},{"x":803,"y":69.3,"s":"bg"},{"x":802.2,"y":66.7,"s":"bg"},{"x":801.2,"y":64,"s":"bg"},{"x":800.3,"y":61.7,"s":"bg"},{"x":799.1,"y":60,"s":"bg"},{"x":798.3,"y":59.3,"s":"bg"},{"x":796.3,"y":57.7,"s":"bg"},{"x":794.3,"y":55,"s":"bg"},{"x":792.3,"y":52,"s":"bg"},{"x":790.4,"y":51,"s":"bg"},{"x":788.4,"y":50.7,"s":"bg"},{"x":786.4,"y":50.3,"s":"bg"},{"x":784.6,"y":49.3,"s":"bg"},{"x":783.6,"y":47.7,"s":"bg"},{"x":782.6,"y":44.3,"s":"bg"},{"x":781.6,"y":40,"s":"bg"},{"x":780.7,"y":34.3,"s":"bg"},{"x":779.7,"y":27.7,"s":"bg"},{"x":778.7,"y":22,"s":"bg"},{"x":777.7,"y":17.7,"s":"bg"},{"x":776.7,"y":15.3,"s":"bg"},{"x":774.8,"y":13.3,"s":"bg"},{"x":771,"y":12,"s":"bg"},{"x":768,"y":11.3,"s":"bg"},
{"x":810,"y":62,"s":"pu"},{"x":806,"y":61.3,"s":"pu"},{"x":803,"y":60.7,"s":"pu"},{"x":800.3,"y":60,"s":"pu"},{"x":799.1,"y":59.5,"s":"pu"},{"x":798.3,"y":60.5,"s":"pu"},{"x":797.7,"y":63,"s":"pu"},{"x":797.2,"y":67,"s":"pu"},{"x":796.8,"y":72,"s":"pu"},{"x":796.4,"y":76.5,"s":"pu"},{"x":796,"y":78.7,"s":"pu"},{"x":795.6,"y":78,"s":"pu"},{"x":795.2,"y":75,"s":"pu"},{"x":794.8,"y":70,"s":"pu"},{"x":794.4,"y":64,"s":"pu"},{"x":794,"y":59,"s":"pu"},{"x":793.6,"y":56,"s":"pu"},{"x":793.2,"y":54,"s":"pu"},{"x":792.5,"y":52,"s":"pu"},
{"x":796.3,"y":57.5,"s":"vi"},{"x":795.6,"y":58.5,"s":"vi"},{"x":795.2,"y":60.5,"s":"vi"},{"x":794.8,"y":64,"s":"vi"},{"x":794.4,"y":69,"s":"vi"},{"x":794,"y":74,"s":"vi"},{"x":793.7,"y":76.7,"s":"vi"},{"x":793.4,"y":75.5,"s":"vi"},{"x":793.1,"y":71,"s":"vi"},{"x":792.8,"y":64,"s":"vi"},{"x":792.5,"y":57,"s":"vi"},{"x":792.1,"y":53,"s":"vi"},{"x":791.6,"y":51.5,"s":"vi"},{"x":791,"y":51,"s":"vi"},
{"x":787,"y":50.5,"s":"gr"},{"x":784.6,"y":51,"s":"gr"},{"x":783.6,"y":53,"s":"gr"},{"x":782.6,"y":57,"s":"gr"},{"x":781.8,"y":63,"s":"gr"},{"x":781,"y":70,"s":"gr"},{"x":780.5,"y":75,"s":"gr"},{"x":780.1,"y":79,"s":"gr"},{"x":779.7,"y":81,"s":"gr"},{"x":779.3,"y":80,"s":"gr"},{"x":778.9,"y":75.5,"s":"gr"},{"x":778.5,"y":67,"s":"gr"},{"x":778.1,"y":56,"s":"gr"},{"x":777.7,"y":45,"s":"gr"},{"x":777.3,"y":35,"s":"gr"},{"x":776.9,"y":27,"s":"gr"},{"x":776.4,"y":21,"s":"gr"},{"x":775.8,"y":17.5,"s":"gr"},{"x":775,"y":15,"s":"gr"},{"x":773.5,"y":13.3,"s":"gr"},{"x":771,"y":12.3,"s":"gr"},{"x":768,"y":11.5,"s":"gr"},
{"x":782,"y":50,"s":"mg"},{"x":780.9,"y":50.5,"s":"mg"},{"x":780,"y":52,"s":"mg"},{"x":779.5,"y":54.5,"s":"mg"},{"x":779.1,"y":59,"s":"mg"},{"x":778.7,"y":68,"s":"mg"},{"x":778.4,"y":80,"s":"mg"},{"x":778.1,"y":93,"s":"mg"},{"x":777.8,"y":101,"s":"mg"},{"x":777.5,"y":98,"s":"mg"},{"x":777.2,"y":88,"s":"mg"},{"x":776.9,"y":72,"s":"mg"},{"x":776.6,"y":55,"s":"mg"},{"x":776.2,"y":38,"s":"mg"},{"x":775.8,"y":27,"s":"mg"},{"x":775.3,"y":21,"s":"mg"},{"x":774.7,"y":17,"s":"mg"},{"x":773.5,"y":14,"s":"mg"},{"x":771,"y":12.5,"s":"mg"},{"x":768,"y":11.5,"s":"mg"}
]},
"layer": [
{"transform": [{"filter": "datum.s === 'raw'"}],
 "mark": {"type": "line", "color": "#4a4a4a", "strokeWidth": 2.6},
 "encoding": {
  "x": {"field": "x", "type": "quantitative", "scale": {"domain": [768, 810], "reverse": true, "nice": false, "zero": false}, "axis": {"title": "Binding energy (eV)", "values": [768,769,770,771,772,773,774,775,776,777,778,779,780,781,782,783,784,785,786,787,788,789,790,791,792,793,794,795,796,797,798,799,800,801,802,803,804,805,806,807,808,809,810], "labelExpr": "datum.value >= 774 && (810 - datum.value) % 6 === 0 ? datum.label : ''"}},
  "y": {"field": "y", "type": "quantitative", "scale": {"domain": [0, 154], "nice": false, "zero": false}, "axis": {"title": "Intensity (a.u)", "labels": false, "values": [19.25,38.5,57.75,77,96.25,115.5,134.75]}}
 }},
{"transform": [{"filter": "datum.s !== 'raw' && datum.s !== 'fit'"}],
 "mark": {"type": "line", "strokeWidth": 1.3, "interpolate": "monotone"},
 "encoding": {
  "x": {"field": "x", "type": "quantitative", "axis": null},
  "y": {"field": "y", "type": "quantitative", "axis": null},
  "color": {"field": "s", "type": "nominal", "scale": {"domain": ["bg","pu","vi","gr","mg"], "range": ["#d2691e","#9b1fa8","#c418f0","#119a11","#ff10ff"]}, "legend": null}
 }},
{"transform": [{"filter": "datum.s === 'fit'"}],
 "mark": {"type": "line", "color": "#1aa3a8", "strokeWidth": 1.3, "interpolate": "monotone"},
 "encoding": {
  "x": {"field": "x", "type": "quantitative", "axis": {"orient": "top", "labels": false, "title": null, "values": [768,769,770,771,772,773,774,775,776,777,778,779,780,781,782,783,784,785,786,787,788,789,790,791,792,793,794,795,796,797,798,799,800,801,802,803,804,805,806,807,808,809,810]}},
  "y": {"field": "y", "type": "quantitative", "axis": {"orient": "right", "labels": false, "title": null, "values": [19.25,38.5,57.75,77,96.25,115.5,134.75]}}
 }},
{"data": {"values": [{"x":799.5,"y":90,"x2":796.3,"y2":80},{"x":792.1,"y":75.3,"x2":793.2,"y2":69.3},{"x":780.6,"y":93.3,"x2":779.9,"y2":82.7},{"x":776.7,"y":102.7,"x2":777.6,"y2":96}]},
 "mark": {"type": "rule", "color": "black", "strokeWidth": 1},
 "encoding": {"x": {"field": "x", "type": "quantitative", "axis": null}, "y": {"field": "y", "type": "quantitative", "axis": null}, "x2": {"field": "x2"}, "y2": {"field": "y2"}}},
{"data": {"values": [{"x": 809.3, "y": 143, "t": "Co 2p"}]},
 "mark": {"type": "text", "align": "left", "baseline": "middle", "fontSize": 10},
 "encoding": {"x": {"field": "x", "type": "quantitative", "axis": null}, "y": {"field": "y", "type": "quantitative", "axis": null}, "text": {"field": "t"}}},
{"data": {"values": [{"x":803.3,"y":78,"t":"Sat."},{"x":794.4,"y":94.3,"t":"Co 2p"},{"x":777.3,"y":127.7,"t":"Co 2p"}]},
 "mark": {"type": "text", "align": "center", "baseline": "middle", "fontSize": 10},
 "encoding": {"x": {"field": "x", "type": "quantitative", "axis": null}, "y": {"field": "y", "type": "quantitative", "axis": null}, "text": {"field": "t"}}},
{"data": {"values": [{"x":791.4,"y":91,"t":"1/2"},{"x":774.3,"y":124.3,"t":"3/2"}]},
 "mark": {"type": "text", "align": "left", "baseline": "middle", "fontSize": 7},
 "encoding": {"x": {"field": "x", "type": "quantitative", "axis": null}, "y": {"field": "y", "type": "quantitative", "axis": null}, "text": {"field": "t"}}},
{"data": {"values": [{"x":803,"y":93.3,"t":"(796.4 eV)"},{"x":788.6,"y":76.7,"t":"(794.8 eV)"},{"x":784,"y":96,"t":"(781.03 eV)"},{"x":773.4,"y":105,"t":"(779.5 eV)"}]},
 "mark": {"type": "text", "align": "center", "baseline": "middle", "fontSize": 7},
 "encoding": {"x": {"field": "x", "type": "quantitative", "axis": null}, "y": {"field": "y", "type": "quantitative", "axis": null}, "text": {"field": "t"}}}
],
"resolve": {"axis": {"x": "independent", "y": "independent"}}
}
], "spacing": -3, "resolve": {"scale": {"color": "independent"}, "legend": {"color": "independent"}}}
], "spacing": 4, "resolve": {"scale": {"color": "independent"}, "legend": {"color": "independent"}}},
{"hconcat": [
{
"width": 210, "height": 171,
"title": {"text": "(d)", "dx": -22},
"data": {"values": [
{"x":240.4,"y":33.5,"s":"raw"},{"x":240.2,"y":31.8,"s":"raw"},{"x":240,"y":33.2,"s":"raw"},{"x":239.8,"y":32,"s":"raw"},{"x":239.6,"y":33.6,"s":"raw"},{"x":239.4,"y":32.3,"s":"raw"},{"x":239.2,"y":33.8,"s":"raw"},{"x":239,"y":32.6,"s":"raw"},{"x":238.8,"y":34,"s":"raw"},{"x":238.6,"y":33.2,"s":"raw"},{"x":238.4,"y":34.8,"s":"raw"},{"x":238.2,"y":34,"s":"raw"},{"x":238,"y":35.5,"s":"raw"},{"x":237.8,"y":36.5,"s":"raw"},{"x":237.6,"y":39,"s":"raw"},{"x":237.4,"y":39.5,"s":"raw"},{"x":237.2,"y":41.5,"s":"raw"},{"x":237,"y":44.5,"s":"raw"},{"x":236.8,"y":49,"s":"raw"},{"x":236.6,"y":55.5,"s":"raw"},{"x":236.4,"y":62,"s":"raw"},{"x":236.2,"y":70.5,"s":"raw"},{"x":236,"y":84,"s":"raw"},{"x":235.8,"y":92,"s":"raw"},{"x":235.6,"y":98.5,"s":"raw"},{"x":235.4,"y":102.5,"s":"raw"},{"x":235.3,"y":103.5,"s":"raw"},{"x":235.2,"y":102.5,"s":"raw"},{"x":235,"y":98,"s":"raw"},{"x":234.8,"y":89,"s":"raw"},{"x":234.6,"y":77,"s":"raw"},{"x":234.4,"y":64.5,"s":"raw"},{"x":234.2,"y":55,"s":"raw"},{"x":234,"y":49.5,"s":"raw"},{"x":233.8,"y":46.5,"s":"raw"},{"x":233.6,"y":48.5,"s":"raw"},{"x":233.4,"y":57,"s":"raw"},{"x":233.2,"y":66,"s":"raw"},{"x":233,"y":80.5,"s":"raw"},{"x":232.8,"y":96,"s":"raw"},{"x":232.6,"y":113,"s":"raw"},{"x":232.4,"y":124.5,"s":"raw"},{"x":232.2,"y":131.5,"s":"raw"},{"x":232,"y":128.5,"s":"raw"},{"x":231.8,"y":117,"s":"raw"},{"x":231.6,"y":100,"s":"raw"},{"x":231.4,"y":78.5,"s":"raw"},{"x":231.2,"y":59,"s":"raw"},{"x":231,"y":45,"s":"raw"},{"x":230.8,"y":35.5,"s":"raw"},{"x":230.6,"y":28.5,"s":"raw"},{"x":230.4,"y":24.5,"s":"raw"},{"x":230.2,"y":22.8,"s":"raw"},{"x":230,"y":20.2,"s":"raw"},{"x":229.8,"y":21.5,"s":"raw"},{"x":229.6,"y":19.6,"s":"raw"},{"x":229.4,"y":20.8,"s":"raw"},{"x":229.2,"y":19.5,"s":"raw"},{"x":229,"y":20.6,"s":"raw"},{"x":228.8,"y":19.4,"s":"raw"},{"x":228.6,"y":20.5,"s":"raw"},{"x":228.4,"y":19.3,"s":"raw"},{"x":228.2,"y":20.4,"s":"raw"},{"x":228,"y":19.5,"s":"raw"},{"x":227.8,"y":20,"s":"raw"},
{"x":240.5,"y":32.5,"s":"fit"},{"x":239,"y":33,"s":"fit"},{"x":238,"y":35,"s":"fit"},{"x":237.6,"y":38,"s":"fit"},{"x":237.2,"y":41,"s":"fit"},{"x":237,"y":44,"s":"fit"},{"x":236.6,"y":55,"s":"fit"},{"x":236.3,"y":70,"s":"fit"},{"x":236,"y":84,"s":"fit"},{"x":235.7,"y":96,"s":"fit"},{"x":235.5,"y":101.5,"s":"fit"},{"x":235.3,"y":103,"s":"fit"},{"x":235.1,"y":101,"s":"fit"},{"x":234.9,"y":92,"s":"fit"},{"x":234.6,"y":76,"s":"fit"},{"x":234.3,"y":60,"s":"fit"},{"x":234.1,"y":51,"s":"fit"},{"x":233.9,"y":47,"s":"fit"},{"x":233.7,"y":47.5,"s":"fit"},{"x":233.5,"y":53,"s":"fit"},{"x":233.3,"y":62,"s":"fit"},{"x":233,"y":80,"s":"fit"},{"x":232.7,"y":105,"s":"fit"},{"x":232.4,"y":124,"s":"fit"},{"x":232.2,"y":131,"s":"fit"},{"x":232,"y":128,"s":"fit"},{"x":231.7,"y":109,"s":"fit"},{"x":231.4,"y":78,"s":"fit"},{"x":231.1,"y":51,"s":"fit"},{"x":230.8,"y":35,"s":"fit"},{"x":230.5,"y":26,"s":"fit"},{"x":230.2,"y":22,"s":"fit"},{"x":229.8,"y":20.5,"s":"fit"},{"x":229,"y":20,"s":"fit"},{"x":227.8,"y":19.8,"s":"fit"},
{"x":240.5,"y":32.3,"s":"g"},{"x":238.4,"y":33.7,"s":"g"},{"x":237.6,"y":36.3,"s":"g"},{"x":237,"y":43,"s":"g"},{"x":236.5,"y":59.7,"s":"g"},{"x":236.1,"y":79.7,"s":"g"},{"x":235.8,"y":93,"s":"g"},{"x":235.6,"y":99.5,"s":"g"},{"x":235.4,"y":102.3,"s":"g"},{"x":235.2,"y":100.5,"s":"g"},{"x":234.9,"y":86.3,"s":"g"},{"x":234.6,"y":69.7,"s":"g"},{"x":234.2,"y":51.3,"s":"g"},{"x":233.8,"y":39.7,"s":"g"},{"x":233.2,"y":33,"s":"g"},{"x":232.4,"y":28,"s":"g"},{"x":231.4,"y":24.7,"s":"g"},{"x":230.4,"y":21.3,"s":"g"},{"x":229.2,"y":19.7,"s":"g"},{"x":227.8,"y":19.7,"s":"g"},
{"x":240.5,"y":31.3,"s":"r"},{"x":237.4,"y":31,"s":"r"},{"x":235.4,"y":29.7,"s":"r"},{"x":234.4,"y":28.3,"s":"r"},{"x":234,"y":29.7,"s":"r"},{"x":233.6,"y":38,"s":"r"},{"x":233.3,"y":53,"s":"r"},{"x":233,"y":76.3,"s":"r"},{"x":232.7,"y":103,"s":"r"},{"x":232.4,"y":123,"s":"r"},{"x":232.2,"y":130.3,"s":"r"},{"x":231.96,"y":126.3,"s":"r"},{"x":231.7,"y":106.3,"s":"r"},{"x":231.4,"y":76.3,"s":"r"},{"x":231.1,"y":49.7,"s":"r"},{"x":230.8,"y":33,"s":"r"},{"x":230.4,"y":23.7,"s":"r"},{"x":229.8,"y":20.3,"s":"r"},{"x":227.8,"y":19.7,"s":"r"},
{"x":240.5,"y":31.3,"s":"b"},{"x":235.4,"y":29,"s":"b"},{"x":233.4,"y":27,"s":"b"},{"x":232.4,"y":24.7,"s":"b"},{"x":231.4,"y":21.3,"s":"b"},{"x":230.4,"y":19.7,"s":"b"},{"x":227.8,"y":19.6,"s":"b"}
]},
"layer": [
{"transform": [{"filter": "datum.s === 'fit'"}],
 "mark": {"type": "line", "color": "#10c8d0", "strokeWidth": 2, "interpolate": "monotone"},
 "encoding": {
  "x": {"field": "x", "type": "quantitative", "scale": {"domain": [227.8, 240.5], "reverse": true, "nice": false, "zero": false}, "axis": {"title": "Binding energy (eV)", "values": [228,229,230,231,232,233,234,235,236,237,238,239,240], "labelExpr": "datum.value % 2 === 0 ? datum.label : ''"}},
  "y": {"field": "y", "type": "quantitative", "scale": {"domain": [0, 171], "nice": false, "zero": false}, "axis": {"title": "Intensity (a.u)", "titlePadding": 11, "labels": false, "values": [16.3,31.8,47.3,62.8,78.3,93.8,109.3,124.8,140.3,155.8]}}
 }},
{"transform": [{"filter": "datum.s === 'raw'"}],
 "mark": {"type": "line", "color": "#4a4a4a", "strokeWidth": 2.2},
 "encoding": {
  "x": {"field": "x", "type": "quantitative", "axis": {"orient": "top", "labels": false, "title": null, "values": [228,229,230,231,232,233,234,235,236,237,238,239,240]}},
  "y": {"field": "y", "type": "quantitative", "axis": {"orient": "right", "labels": false, "title": null, "values": [16.3,31.8,47.3,62.8,78.3,93.8,109.3,124.8,140.3,155.8]}}
 }},
{"transform": [{"filter": "datum.s === 'g' || datum.s === 'r' || datum.s === 'b'"}],
 "mark": {"type": "line", "strokeWidth": 1.4, "interpolate": "monotone"},
 "encoding": {
  "x": {"field": "x", "type": "quantitative", "axis": null},
  "y": {"field": "y", "type": "quantitative", "axis": null},
  "color": {"field": "s", "type": "nominal", "scale": {"domain": ["b","r","g"], "range": ["#2a2aff","#ff6b6b","#4caa14"]}, "legend": null}
 }},
{"data": {"values": [{"x":237.15,"y":94,"x2":235.8,"y2":94},{"x":230.75,"y":118.5,"x2":231.7,"y2":116.3}]},
 "mark": {"type": "rule", "color": "black", "strokeWidth": 1},
 "encoding": {"x": {"field": "x", "type": "quantitative", "axis": null}, "y": {"field": "y", "type": "quantitative", "axis": null}, "x2": {"field": "x2"}, "y2": {"field": "y2"}}},
{"data": {"values": [{"x": 240.1, "y": 158, "t": "Mo 3d"}]},
 "mark": {"type": "text", "align": "left", "baseline": "middle", "fontSize": 10},
 "encoding": {"x": {"field": "x", "type": "quantitative", "axis": null}, "y": {"field": "y", "type": "quantitative", "axis": null}, "text": {"field": "t"}}},
{"data": {"values": [{"x":235.4,"y":110,"t":"Mo 3d"},{"x":232.2,"y":138,"t":"Mo 3d"}]},
 "mark": {"type": "text", "align": "center", "baseline": "middle", "fontSize": 12},
 "encoding": {"x": {"field": "x", "type": "quantitative", "axis": null}, "y": {"field": "y", "type": "quantitative", "axis": null}, "text": {"field": "t"}}},
{"data": {"values": [{"x":234.35,"y":106,"t":"3/2"},{"x":231.15,"y":134,"t":"5/2"}]},
 "mark": {"type": "text", "align": "left", "baseline": "middle", "fontSize": 8},
 "encoding": {"x": {"field": "x", "type": "quantitative", "axis": null}, "y": {"field": "y", "type": "quantitative", "axis": null}, "text": {"field": "t"}}},
{"data": {"values": [{"x":238.4,"y":93.5,"t":"(235.3 eV)"},{"x":229.7,"y":120,"t":"(232.1 eV)"}]},
 "mark": {"type": "text", "align": "center", "baseline": "middle", "fontSize": 8},
 "encoding": {"x": {"field": "x", "type": "quantitative", "axis": null}, "y": {"field": "y", "type": "quantitative", "axis": null}, "text": {"field": "t"}}},
{"data": {"values": [{"x":235.3,"y":84,"t":"Mo⁶⁺"},{"x":232.4,"y":93,"t":"Mo⁶⁺"}]},
 "mark": {"type": "text", "align": "center", "baseline": "middle", "fontSize": 7},
 "encoding": {"x": {"field": "x", "type": "quantitative", "axis": null}, "y": {"field": "y", "type": "quantitative", "axis": null}, "text": {"field": "t"}}}
],
"resolve": {"axis": {"x": "independent", "y": "independent"}}
},
{
"width": 200, "height": 165,
"title": {"text": "(e)", "dx": -30},
"data": {"values": [
{"x":525,"y":16.5,"s":"raw"},{"x":525.25,"y":15.2,"s":"raw"},{"x":525.5,"y":16.3,"s":"raw"},{"x":525.75,"y":15.4,"s":"raw"},{"x":526,"y":16.6,"s":"raw"},{"x":526.25,"y":15.8,"s":"raw"},{"x":526.5,"y":17,"s":"raw"},{"x":526.75,"y":16.4,"s":"raw"},{"x":527,"y":17.8,"s":"raw"},{"x":527.25,"y":18.2,"s":"raw"},{"x":527.5,"y":20.5,"s":"raw"},{"x":527.75,"y":24,"s":"raw"},{"x":528,"y":33,"s":"raw"},{"x":528.25,"y":46,"s":"raw"},{"x":528.5,"y":66,"s":"raw"},{"x":528.75,"y":88,"s":"raw"},{"x":529,"y":108,"s":"raw"},{"x":529.25,"y":120,"s":"raw"},{"x":529.45,"y":123.5,"s":"raw"},{"x":529.6,"y":121,"s":"raw"},{"x":529.8,"y":112,"s":"raw"},{"x":530,"y":103,"s":"raw"},{"x":530.25,"y":96.5,"s":"raw"},{"x":530.5,"y":89,"s":"raw"},{"x":530.7,"y":87.5,"s":"raw"},{"x":530.9,"y":90.5,"s":"raw"},{"x":531.1,"y":93,"s":"raw"},{"x":531.3,"y":95.5,"s":"raw"},{"x":531.5,"y":94,"s":"raw"},{"x":531.7,"y":92,"s":"raw"},{"x":531.9,"y":89,"s":"raw"},{"x":532.1,"y":86,"s":"raw"},{"x":532.3,"y":83,"s":"raw"},{"x":532.5,"y":79.5,"s":"raw"},{"x":532.7,"y":76.5,"s":"raw"},{"x":532.9,"y":72.5,"s":"raw"},{"x":533.1,"y":66,"s":"raw"},{"x":533.3,"y":60,"s":"raw"},{"x":533.5,"y":52,"s":"raw"},{"x":533.7,"y":46,"s":"raw"},{"x":533.9,"y":39.5,"s":"raw"},{"x":534.1,"y":35,"s":"raw"},{"x":534.3,"y":31,"s":"raw"},{"x":534.5,"y":28.5,"s":"raw"},{"x":534.75,"y":26.5,"s":"raw"},{"x":535,"y":25.5,"s":"raw"},{"x":535.25,"y":24.2,"s":"raw"},{"x":535.5,"y":25,"s":"raw"},{"x":535.75,"y":23.8,"s":"raw"},{"x":536,"y":24.8,"s":"raw"},{"x":536.25,"y":23.9,"s":"raw"},{"x":536.5,"y":24.7,"s":"raw"},{"x":536.75,"y":23.7,"s":"raw"},{"x":537,"y":24.6,"s":"raw"},{"x":537.25,"y":23.8,"s":"raw"},{"x":537.5,"y":24.5,"s":"raw"},{"x":537.75,"y":23.9,"s":"raw"},{"x":538,"y":24.3,"s":"raw"},
{"x":525,"y":16,"s":"fit"},{"x":526.9,"y":17.3,"s":"fit"},{"x":527.55,"y":20.7,"s":"fit"},{"x":527.98,"y":31.7,"s":"fit"},{"x":528.4,"y":58.3,"s":"fit"},{"x":528.83,"y":95,"s":"fit"},{"x":529.15,"y":117.3,"s":"fit"},{"x":529.36,"y":123.3,"s":"fit"},{"x":529.64,"y":120,"s":"fit"},{"x":529.94,"y":105,"s":"fit"},{"x":530.32,"y":95,"s":"fit"},{"x":530.64,"y":87.5,"s":"fit"},{"x":530.96,"y":91.7,"s":"fit"},{"x":531.28,"y":95,"s":"fit"},{"x":531.6,"y":92.7,"s":"fit"},{"x":532.02,"y":86.7,"s":"fit"},{"x":532.45,"y":80,"s":"fit"},{"x":532.77,"y":75,"s":"fit"},{"x":533.09,"y":66.7,"s":"fit"},{"x":533.51,"y":51.7,"s":"fit"},{"x":533.94,"y":38.3,"s":"fit"},{"x":534.36,"y":30,"s":"fit"},{"x":534.79,"y":26,"s":"fit"},{"x":535.64,"y":24.3,"s":"fit"},{"x":538,"y":24,"s":"fit"},
{"x":526.5,"y":17,"s":"pk"},{"x":527.55,"y":20,"s":"pk"},{"x":527.98,"y":30,"s":"pk"},{"x":528.4,"y":56.7,"s":"pk"},{"x":528.83,"y":93.3,"s":"pk"},{"x":529.15,"y":115,"s":"pk"},{"x":529.36,"y":121.7,"s":"pk"},{"x":529.64,"y":118.3,"s":"pk"},{"x":529.94,"y":100,"s":"pk"},{"x":530.21,"y":73.3,"s":"pk"},{"x":530.53,"y":50,"s":"pk"},{"x":530.96,"y":31.7,"s":"pk"},{"x":531.49,"y":25,"s":"pk"},{"x":532.66,"y":23.3,"s":"pk"},{"x":534,"y":23.6,"s":"pk"},
{"x":528.4,"y":20,"s":"or"},{"x":529.26,"y":25,"s":"or"},{"x":529.89,"y":40,"s":"or"},{"x":530.43,"y":66.7,"s":"or"},{"x":530.85,"y":83.3,"s":"or"},{"x":531.17,"y":87.3,"s":"or"},{"x":531.6,"y":83.3,"s":"or"},{"x":532.02,"y":66.7,"s":"or"},{"x":532.45,"y":46.7,"s":"or"},{"x":532.87,"y":31.7,"s":"or"},{"x":533.51,"y":25,"s":"or"},{"x":534.79,"y":23.6,"s":"or"},
{"x":525,"y":15.7,"s":"gn"},{"x":528.4,"y":17.5,"s":"gn"},{"x":530.53,"y":21.7,"s":"gn"},{"x":531.17,"y":26.7,"s":"gn"},{"x":531.81,"y":40,"s":"gn"},{"x":532.23,"y":58,"s":"gn"},{"x":532.6,"y":69,"s":"gn"},{"x":532.87,"y":71,"s":"gn"},{"x":533.19,"y":68.3,"s":"gn"},{"x":533.62,"y":53.3,"s":"gn"},{"x":534.04,"y":36.7,"s":"gn"},{"x":534.57,"y":26.7,"s":"gn"},{"x":535.21,"y":24,"s":"gn"},{"x":538,"y":24,"s":"gn"},
{"x":525,"y":15.5,"s":"bl"},{"x":528.4,"y":16.7,"s":"bl"},{"x":530.53,"y":19,"s":"bl"},{"x":532.66,"y":21.7,"s":"bl"},{"x":534.79,"y":23.3,"s":"bl"},{"x":538,"y":24,"s":"bl"},
{"x":534.5,"y":24.2,"s":"rd"},{"x":538,"y":24.4,"s":"rd"}
]},
"layer": [
{"transform": [{"filter": "datum.s === 'raw'"}],
 "mark": {"type": "line", "color": "#2e3b3b", "strokeWidth": 2.4},
 "encoding": {
  "x": {"field": "x", "type": "quantitative", "scale": {"domain": [525, 538], "nice": false, "zero": false}, "axis": {"title": "Binding energy (eV)", "values": [525,526,527,528,529,530,531,532,533,534,535,536,537,538], "labelExpr": "(datum.value - 525) % 3 === 0 ? datum.label : ''"}},
  "y": {"field": "y", "type": "quantitative", "scale": {"domain": [0, 165], "nice": false, "zero": false}, "axis": {"title": "Intensity (a.u.)", "labels": false, "values": [2.5,20,37.5,55,72.5,90,107.5,125,142.5,160]}}
 }},
{"transform": [{"filter": "datum.s !== 'raw' && datum.s !== 'fit'"}],
 "mark": {"type": "line", "strokeWidth": 1.3, "interpolate": "monotone"},
 "encoding": {
  "x": {"field": "x", "type": "quantitative", "axis": null},
  "y": {"field": "y", "type": "quantitative", "axis": null},
  "color": {"field": "s", "type": "nominal", "scale": {"domain": ["bl","rd","pk","or","gn"], "range": ["#2a2aff","#ff3030","#ff5fcf","#f08a3c","#22b24c"]}, "legend": null}
 }},
{"transform": [{"filter": "datum.s === 'fit'"}],
 "mark": {"type": "line", "color": "#18a0a0", "strokeWidth": 1.3, "interpolate": "monotone"},
 "encoding": {
  "x": {"field": "x", "type": "quantitative", "axis": {"orient": "top", "labels": false, "title": null, "values": [525,526,527,528,529,530,531,532,533,534,535,536,537,538]}},
  "y": {"field": "y", "type": "quantitative", "axis": {"orient": "right", "labels": false, "title": null, "values": [2.5,20,37.5,55,72.5,90,107.5,125,142.5,160]}}
 }},
{"data": {"values": [{"x":530.4,"y":121.7,"x2":529.65,"y2":114.5},{"x":532.8,"y":90.7,"x2":531.95,"y2":86.7},{"x":534.7,"y":65.7,"x2":533.3,"y2":62.7}]},
 "mark": {"type": "rule", "color": "black", "strokeWidth": 1},
 "encoding": {"x": {"field": "x", "type": "quantitative", "axis": null}, "y": {"field": "y", "type": "quantitative", "axis": null}, "x2": {"field": "x2"}, "y2": {"field": "y2"}}},
{"data": {"values": [{"x": 525.4, "y": 148, "t": "O 1s"}]},
 "mark": {"type": "text", "align": "left", "baseline": "middle", "fontSize": 10},
 "encoding": {"x": {"field": "x", "type": "quantitative", "axis": null}, "y": {"field": "y", "type": "quantitative", "axis": null}, "text": {"field": "t"}}},
{"data": {"values": [{"x":529.3,"y":131.7,"t":"O"},{"x":531.5,"y":101.7,"t":"O"}]},
 "mark": {"type": "text", "align": "center", "baseline": "middle", "fontSize": 13},
 "encoding": {"x": {"field": "x", "type": "quantitative", "axis": null}, "y": {"field": "y", "type": "quantitative", "axis": null}, "text": {"field": "t"}}},
{"data": {"values": [{"x":529.62,"y":137.5,"t":"2-"}]},
 "mark": {"type": "text", "align": "left", "baseline": "middle", "fontSize": 8},
 "encoding": {"x": {"field": "x", "type": "quantitative", "axis": null}, "y": {"field": "y", "type": "quantitative", "axis": null}, "text": {"field": "t"}}},
{"data": {"values": [{"x":531.83,"y":97.5,"t":"vac"}]},
 "mark": {"type": "text", "align": "left", "baseline": "middle", "fontSize": 6},
 "encoding": {"x": {"field": "x", "type": "quantitative", "axis": null}, "y": {"field": "y", "type": "quantitative", "axis": null}, "text": {"field": "t"}}},
{"data": {"values": [{"x":533.1,"y":76,"t":"-OH"}]},
 "mark": {"type": "text", "align": "left", "baseline": "middle", "fontSize": 12},
 "encoding": {"x": {"field": "x", "type": "quantitative", "axis": null}, "y": {"field": "y", "type": "quantitative", "axis": null}, "text": {"field": "t"}}},
{"data": {"values": [{"x":531.55,"y":123.7,"t":"(529.5 eV)"},{"x":533.8,"y":91.7,"t":"(531.6 eV)"},{"x":535.85,"y":64.7,"t":"(532.5 eV)"}]},
 "mark": {"type": "text", "align": "center", "baseline": "middle", "fontSize": 7},
 "encoding": {"x": {"field": "x", "type": "quantitative", "axis": null}, "y": {"field": "y", "type": "quantitative", "axis": null}, "text": {"field": "t"}}}
],
"resolve": {"axis": {"x": "independent", "y": "independent"}}
}
], "spacing": 2, "resolve": {"scale": {"color": "independent"}, "legend": {"color": "independent"}}}
],
"config": {
 "font": "Liberation Serif",
 "view": {"stroke": "black", "strokeWidth": 1.5},
 "style": {"guide-label": {"font": "Liberation Serif", "fontWeight": "bold"}, "guide-title": {"font": "Liberation Serif", "fontWeight": "bold"}},
 "axis": {"domain": false, "grid": false, "tickColor": "black", "tickSize": -4, "tickWidth": 1, "labelFont": "Liberation Serif", "labelFontWeight": "bold", "labelFontSize": 13, "labelColor": "black", "labelPadding": 3, "labelFlush": false, "labelOverlap": false, "labelBound": false, "titleFont": "Liberation Serif", "titleFontWeight": "bold", "titleFontSize": 13, "titleColor": "black", "titlePadding": 3},
 "axisX": {"labelFont": "Liberation Serif", "titleFont": "Liberation Serif"},
 "axisY": {"labelFont": "Liberation Serif", "titleFont": "Liberation Serif"},
 "title": {"font": "Liberation Serif", "fontWeight": "bold", "fontSize": 20, "anchor": "start", "frame": "bounds", "offset": -12, "color": "black"},
 "legend": {"labelFont": "Liberation Serif", "labelFontWeight": "bold", "labelFontSize": 9, "labelColor": "black"},
 "text": {"font": "Liberation Serif", "fontWeight": "bold", "color": "black"}
}
}
